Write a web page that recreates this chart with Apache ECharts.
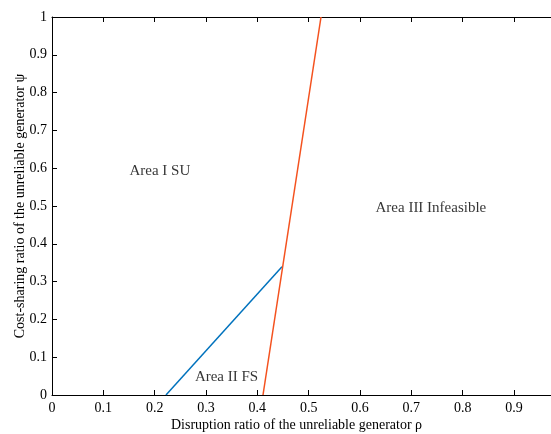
<!DOCTYPE html>
<html><head><meta charset="utf-8">
<script src="https://cdn.jsdelivr.net/npm/echarts@6/dist/echarts.min.js"></script>
<style>html,body{margin:0;padding:0;background:#fff}#c{width:551px;height:434px}</style>
</head><body><div id="c"></div>
<script>
const xTicks = [0,0.1,0.2,0.3,0.4,0.5,0.6,0.7,0.8,0.9];
const blueRho = [0.222, 0.448];
const bluePsi = [0, 0.339];
const redRho = [0.411, 0.524];
const redPsi = [0, 1];
const areaNames = ['Area I SU', 'Area II FS', 'Area III Infeasible'];
const areaRho = [0.21, 0.34, 0.738];
const areaPsi = [0.593, 0.048, 0.495];

const font = "'Liberation Serif', 'Times New Roman', serif";
const chart = echarts.init(document.getElementById('c'));
const axisCommon = {
  type: 'value', min: 0, max: 0.972, interval: 0.1,
  axisLine: {show: true, onZero: false, lineStyle: {color: '#000', width: 1}},
  axisTick: {show: true, inside: true, length: 5, lineStyle: {color: '#000'}},
  splitLine: {show: false}
};
chart.setOption({
  animation: false,
  grid: {left: 52, top: 17, bottom: 39, right: 0, outerBoundsMode: 'none', containLabel: false},
  xAxis: [
    Object.assign({}, axisCommon, {
      position: 'bottom',
      name: 'Disruption ratio of the unreliable generator \u03C1',
      nameLocation: 'middle', nameGap: 23, nameMoveOverlap: false,
      nameTextStyle: {fontFamily: font, fontSize: 14, color: '#000', padding: [0, 10, 0, 0]},
      axisLabel: {fontFamily: font, fontSize: 14, color: '#000', margin: 6,
        formatter: v => (v > 0.95 ? '' : String(Math.round(v*10)/10))}
    }),
    Object.assign({}, axisCommon, {
      position: 'top', axisLabel: {show: false}
    })
  ],
  yAxis: Object.assign({}, axisCommon, {
    max: 1,
    name: 'Cost-sharing ratio of the unreliable generator \u03C8',
    nameLocation: 'middle', nameGap: 25, nameRotate: 90, nameMoveOverlap: false,
    nameTextStyle: {fontFamily: font, fontSize: 14, color: '#000'},
    axisLabel: {fontFamily: font, fontSize: 14, color: '#000', margin: 5,
      formatter: v => String(Math.round(v*10)/10)}
  }),
  series: [
    {type: 'line', symbol: 'none', lineStyle: {color: '#0072BD', width: 1.5},
     data: blueRho.map((x, i) => [x, bluePsi[i]])},
    {type: 'line', symbol: 'none', lineStyle: {color: '#F4511E', width: 1.5},
     data: redRho.map((x, i) => [x, redPsi[i]])},
    {type: 'scatter', symbolSize: 0,
     label: {show: true, position: 'inside', formatter: p => p.data[2],
       fontFamily: font, fontSize: 15, color: '#000'},
     data: areaNames.map((n, i) => [areaRho[i], areaPsi[i], n])}
  ]
});
</script></body></html>
